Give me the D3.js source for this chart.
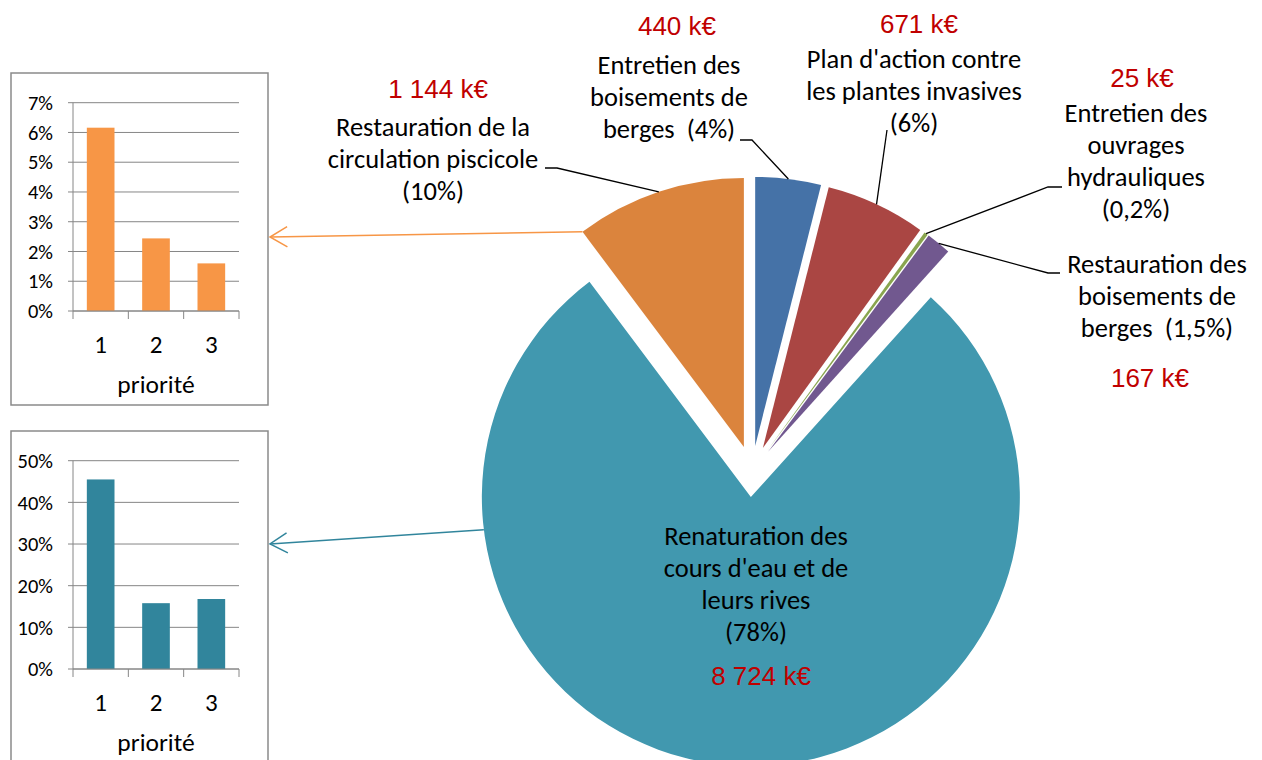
<!DOCTYPE html>
<html>
<head>
<meta charset="utf-8">
<script src="https://cdn.jsdelivr.net/npm/d3@7"></script>
<style>
  body { margin: 0; background: #fff; }
  svg { display: block; }
  text { font-family: Carlito, Lato, sans-serif; white-space: pre; }
  .amount { font-family: "Liberation Sans", Arial, sans-serif; fill: #c00000; }
</style>
</head>
<body>
<svg id="chart" width="1262" height="760"></svg>
<script>
// Budget par action (k€), dans l'ordre du camembert (sens horaire depuis midi)
const actions = [
  ["Entretien des", "boisements de", "berges  (4%)"],
  ["Plan d'action contre", "les plantes invasives", "(6%)"],
  ["Entretien des", "ouvrages", "hydrauliques", "(0,2%)"],
  ["Restauration des", "boisements de", "berges  (1,5%)"],
  ["Renaturation des", "cours d'eau et de", "leurs rives", "(78%)"],
  ["Restauration de la", "circulation piscicole", "(10%)"]
];
const amounts = [440, 671, 25, 167, 8724, 1144];
const pieColors = ["#4572a7", "#aa4643", "#89a54e", "#71588f", "#4198af", "#db843d"];

// répartition par priorité (part du budget total)
const priorities = [1, 2, 3];
const circulationShares = [0.0616, 0.0244, 0.016];
const renaturationShares = [0.455, 0.158, 0.168];
const circulationTicks = [0, 0.01, 0.02, 0.03, 0.04, 0.05, 0.06, 0.07];
const renaturationTicks = [0, 0.1, 0.2, 0.3, 0.4, 0.5];

// placement des étiquettes (centre, ligne de base de la 1re ligne)
const labelPos = [
  { x: 669, y: 74, kx: 677, ky: 35 },
  { x: 914, y: 68, kx: 919, ky: 33 },
  { x: 1136, y: 122, kx: 1142, ky: 87 },
  { x: 1157, y: 273, kx: 1150, ky: 387 },
  { x: 756, y: 545, kx: 761, ky: 685 },
  { x: 433, y: 136, kx: 438, ky: 98 }
];
// lignes de rappel : bout côté texte (x1), coude (x2), hauteur
const leaders = [
  { x1: 740, x2: 752, y: 140 },
  { x1: 887, x2: 887, y: 130 },
  { x1: 1062, x2: 1048, y: 187 },
  { x1: 1060, x2: 1048, y: 273 },
  null,
  { x1: 545, x2: 557, y: 168 }
];

const svg = d3.select("#chart");
const lineH = 32;
const R = 269, center = { x: 752, y: 471.4 }, explode = 25.7;

const fr = d3.formatLocale({ decimal: ",", thousands: " ", grouping: [3], currency: ["", ""] });
const fmtK = fr.format(",d");

const slices = d3.pie().sort(null).value(d => d)(amounts);
const arc = d3.arc().innerRadius(0).outerRadius(R);

slices.forEach(s => {
  const mid = (s.startAngle + s.endAngle) / 2;
  s.cx = center.x + explode * Math.sin(mid);
  s.cy = center.y - explode * Math.cos(mid);
  s.mid = mid;
});
const onArc = (s, a) => [s.cx + R * Math.sin(a), s.cy - R * Math.cos(a)];

svg.append("g").selectAll("path")
  .data(slices)
  .join("path")
    .attr("transform", d => `translate(${d.cx},${d.cy})`)
    .attr("d", arc)
    .attr("fill", (d, i) => pieColors[i]);

// lignes de rappel
leaders.forEach((l, i) => {
  if (!l) return;
  const p = onArc(slices[i], slices[i].mid);
  svg.append("polyline")
    .attr("points", [[l.x1, l.y], [l.x2, l.y], p].map(q => q.join(",")).join(" "))
    .attr("fill", "none")
    .attr("stroke", "#000")
    .attr("stroke-width", 1.3);
});

// étiquettes
actions.forEach((lines, i) => {
  const pos = labelPos[i];
  const t = svg.append("text")
    .attr("text-anchor", "middle")
    .style("font-size", "26.5px")
    .attr("fill", "#000");
  lines.forEach((ln, j) => {
    t.append("tspan").attr("x", pos.x).attr("y", pos.y + j * lineH).text(ln);
  });
  svg.append("text")
    .attr("class", "amount")
    .attr("x", pos.kx)
    .attr("y", pos.ky)
    .attr("text-anchor", "middle")
    .style("font-size", "26px")
    .text(fmtK(amounts[i]) + " k€");
});

// petits histogrammes par priorité
function miniChart(frameY, shares, ticks, color, sliceIdx, fromAngle, arrowY) {
  const frame = { x: 11, y: frameY, w: 257, h: 332 };
  const g = svg.append("g");
  g.append("rect")
    .attr("x", frame.x).attr("y", frame.y)
    .attr("width", frame.w).attr("height", frame.h)
    .attr("fill", "#fff").attr("stroke", "#8a8a8a").attr("stroke-width", 1.5);

  const x = d3.scaleBand().domain(priorities)
    .range([73, 239]).paddingInner(0.5).paddingOuter(0.25);
  const y = d3.scaleLinear().domain([0, d3.max(ticks)])
    .range([frameY + 238, frameY + 29.7]);

  g.append("g").selectAll("line")
    .data(ticks)
    .join("line")
      .attr("x1", 68).attr("x2", 239)
      .attr("y1", d => y(d)).attr("y2", d => y(d))
      .attr("stroke", "#868686");

  g.append("g").selectAll("text")
    .data(ticks)
    .join("text")
      .attr("x", 53).attr("y", d => y(d))
      .attr("dy", "0.35em")
      .attr("text-anchor", "end")
      .style("font-size", "20.5px")
      .text(d3.format(".0%"));

  g.append("g").selectAll("rect")
    .data(shares)
    .join("rect")
      .attr("x", (d, i) => x(priorities[i]))
      .attr("y", d => y(d))
      .attr("width", x.bandwidth())
      .attr("height", d => y(0) - y(d))
      .attr("fill", color);

  g.append("line")
    .attr("x1", 73).attr("x2", 73).attr("y1", y(d3.max(ticks))).attr("y2", y(0))
    .attr("stroke", "#868686");
  g.append("line")
    .attr("x1", 73).attr("x2", 239).attr("y1", y(0)).attr("y2", y(0))
    .attr("stroke", "#868686");
  g.append("g").selectAll("line")
    .data(d3.range(priorities.length + 1))
    .join("line")
      .attr("x1", i => 73 + i * x.step()).attr("x2", i => 73 + i * x.step())
      .attr("y1", y(0)).attr("y2", y(0) + 8)
      .attr("stroke", "#868686");

  g.append("g").selectAll("text")
    .data(priorities)
    .join("text")
      .attr("x", d => x(d) + x.bandwidth() / 2)
      .attr("y", y(0) + 42)
      .attr("text-anchor", "middle")
      .style("font-size", "25px")
      .text(d => d);

  g.append("text")
    .attr("x", 156).attr("y", y(0) + 82)
    .attr("text-anchor", "middle")
    .style("font-size", "25.5px")
    .text("priorité");

  // flèche depuis la part du camembert
  const start = onArc(slices[sliceIdx], fromAngle);
  const end = [frame.x + frame.w + 2, arrowY];
  const ang = Math.atan2(start[1] - end[1], start[0] - end[0]);
  const armL = 20, spread = 0.53;
  g.append("line")
    .attr("x1", start[0]).attr("y1", start[1])
    .attr("x2", end[0]).attr("y2", end[1])
    .attr("stroke", color).attr("stroke-width", 1.5);
  g.append("polyline")
    .attr("points", [
      [end[0] + armL * Math.cos(ang - spread), end[1] + armL * Math.sin(ang - spread)],
      end,
      [end[0] + armL * Math.cos(ang + spread), end[1] + armL * Math.sin(ang + spread)]
    ].map(q => q.join(",")).join(" "))
    .attr("fill", "none").attr("stroke", color).attr("stroke-width", 1.5);
}

miniChart(73, circulationShares, circulationTicks, "#f79646", 5, slices[5].startAngle, 237);
miniChart(431, renaturationShares, renaturationTicks, "#31859c", 4, 263 * Math.PI / 180, 544);
</script>
</body>
</html>
